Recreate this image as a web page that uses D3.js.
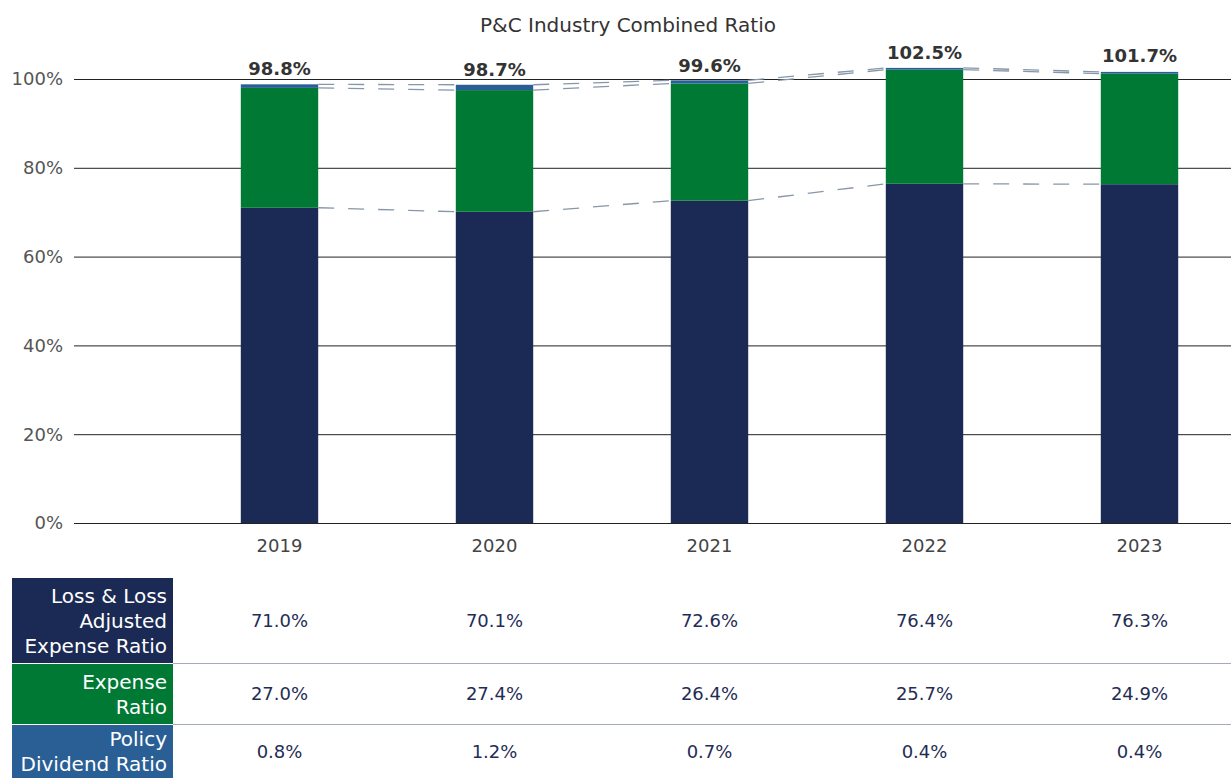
<!DOCTYPE html>
<html>
<head>
<meta charset="utf-8">
<script src="https://cdn.jsdelivr.net/npm/d3@7"></script>
<style>
  body { margin: 0; background: #fff; }
  svg { display: block; font-family: "DejaVu Sans", sans-serif; }
</style>
</head>
<body>
<svg id="chart" width="1231" height="778"></svg>
<script>
// data
var years = ["2019", "2020", "2021", "2022", "2023"];
var lossRatio = [71.0, 70.1, 72.6, 76.4, 76.3];
var expenseRatio = [27.0, 27.4, 26.4, 25.7, 24.9];
var dividendRatio = [0.8, 1.2, 0.7, 0.4, 0.4];
var combined = [98.8, 98.7, 99.6, 102.5, 101.7];
var yTicks = [0, 20, 40, 60, 80, 100];
var rowNames = [["Loss & Loss", "Adjusted", "Expense Ratio"], ["Expense", "Ratio"], ["Policy", "Dividend Ratio"]];

var colors = ["#1b2a54", "#007934", "#2a5f96"];
var series = [lossRatio, expenseRatio, dividendRatio];

var W = 1231, H = 778;
var svg = d3.select("#chart");

var x = d3.scaleBand()
    .domain(years)
    .range([172, 1247])
    .paddingInner(0.64)
    .paddingOuter(0.32);

var y = d3.scaleLinear()
    .domain([0, 100])
    .range([523, 79]);

// title
svg.append("text")
    .attr("x", 628).attr("y", 32)
    .attr("text-anchor", "middle")
    .attr("font-size", 20)
    .attr("fill", "#333")
    .text("P&C Industry Combined Ratio");

// gridlines + y labels
var grid = svg.append("g");
grid.selectAll("line")
  .data(yTicks)
  .enter().append("line")
    .attr("x1", 74).attr("x2", W)
    .attr("y1", d => y(d) + 0.5).attr("y2", d => y(d) + 0.5)
    .attr("stroke", "#222")
    .attr("stroke-width", 1);
grid.selectAll("text")
  .data(yTicks)
  .enter().append("text")
    .attr("x", 63)
    .attr("y", d => y(d))
    .attr("dy", "0.35em")
    .attr("text-anchor", "end")
    .attr("font-size", 18)
    .attr("fill", "#555")
    .text(d => d + "%");

// stack
var rows = years.map((yr, i) => ({year: yr, loss: lossRatio[i], expense: expenseRatio[i], dividend: dividendRatio[i]}));
var stacked = d3.stack().keys(["loss", "expense", "dividend"])(rows);

svg.append("g")
  .selectAll("g")
  .data(stacked)
  .enter().append("g")
    .attr("fill", (d, i) => colors[i])
  .selectAll("rect")
  .data(d => d)
  .enter().append("rect")
    .attr("x", d => x(d.data.year))
    .attr("width", x.bandwidth())
    .attr("y", d => y(d[1]))
    .attr("height", d => y(d[0]) - y(d[1]));

// dashed connectors between neighbouring bars
var conn = svg.append("g")
    .attr("stroke", "#8796a8")
    .attr("stroke-width", 1.3)
    .attr("stroke-dasharray", "16,14")
    .attr("fill", "none");
stacked.forEach(layer => {
  for (var i = 0; i < layer.length - 1; i++) {
    conn.append("line")
        .attr("x1", x(years[i]) + x.bandwidth())
        .attr("y1", y(layer[i][1]))
        .attr("x2", x(years[i + 1]))
        .attr("y2", y(layer[i + 1][1]));
  }
});

// total labels
svg.append("g")
  .selectAll("text")
  .data(combined)
  .enter().append("text")
    .attr("x", (d, i) => x(years[i]) + x.bandwidth() / 2)
    .attr("y", d => y(d) - 9)
    .attr("text-anchor", "middle")
    .attr("font-size", 18)
    .attr("font-weight", "bold")
    .attr("fill", "#333")
    .text(d => d.toFixed(1) + "%");

// x axis labels
svg.append("g")
  .selectAll("text")
  .data(years)
  .enter().append("text")
    .attr("x", d => x(d) + x.bandwidth() / 2)
    .attr("y", 552)
    .attr("text-anchor", "middle")
    .attr("font-size", 18)
    .attr("fill", "#444")
    .text(d => d);

// table
var rowTop = [578, 664, 725];
var rowBottom = [663, 724, 778];
var table = svg.append("g");
series.forEach((vals, r) => {
  var top = rowTop[r], bot = rowBottom[r], mid = (top + bot) / 2;
  table.append("rect")
      .attr("x", 12).attr("y", top)
      .attr("width", 161).attr("height", bot - top)
      .attr("fill", colors[r]);
  var lines = rowNames[r];
  var lh = 25;
  table.append("text")
      .attr("x", 167)
      .attr("y", mid - (lines.length - 1) * lh / 2)
      .attr("text-anchor", "end")
      .attr("font-size", 20)
      .attr("fill", "#fff")
      .selectAll("tspan")
      .data(lines)
      .enter().append("tspan")
        .attr("x", 167)
        .attr("dy", (d, k) => k === 0 ? "0.35em" : lh)
        .text(d => d);
  table.selectAll(null)
    .data(vals)
    .enter().append("text")
      .attr("x", (d, i) => x(years[i]) + x.bandwidth() / 2)
      .attr("y", mid)
      .attr("dy", "0.35em")
      .attr("text-anchor", "middle")
      .attr("font-size", 18)
      .attr("fill", "#1f2d55")
      .text(d => d.toFixed(1) + "%");
  if (r < 2) {
    table.append("line")
        .attr("x1", 173).attr("x2", W)
        .attr("y1", bot + 0.5).attr("y2", bot + 0.5)
        .attr("stroke", "#a3adb9")
        .attr("stroke-width", 1);
  }
});
</script>
</body>
</html>
